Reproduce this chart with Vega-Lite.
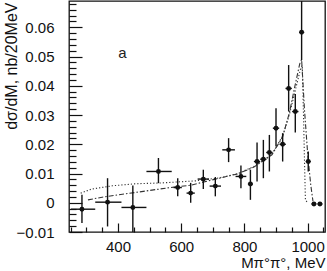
{
  "$schema": "https://vega.github.io/schema/vega-lite/v6.json",
  "autosize": {"type": "none"},
  "padding": {"left": 69, "top": 1, "right": 2, "bottom": 39},
  "width": 256,
  "height": 231,
  "background": "white",
  "config": {
    "view": {"stroke": "#111", "strokeWidth": 1.3},
    "font": "Liberation Sans",
    "axis": {"labelFont": "Liberation Sans", "titleFont": "Liberation Sans", "labelColor": "#111", "titleColor": "#111", "tickColor": "#111", "grid": false, "domain": false}
  },
  "datasets": {
    "points": [
      {"m": 286, "v": -0.0022, "ylo": -0.0069, "yhi": 0.0027, "xlo": 251, "xhi": 328},
      {"m": 367, "v": 0.0002, "ylo": -0.0081, "yhi": 0.0084, "xlo": 328, "xhi": 411},
      {"m": 447, "v": -0.0016, "ylo": -0.01, "yhi": 0.0059, "xlo": 411, "xhi": 490},
      {"m": 528, "v": 0.0107, "ylo": 0.0067, "yhi": 0.0153, "xlo": 490, "xhi": 570},
      {"m": 589, "v": 0.0052, "ylo": 0.0022, "yhi": 0.0084, "xlo": 576, "xhi": 602},
      {"m": 630, "v": 0.0033, "ylo": 0.0, "yhi": 0.0068, "xlo": 617, "xhi": 643},
      {"m": 670, "v": 0.0081, "ylo": 0.0047, "yhi": 0.0113, "xlo": 652, "xhi": 688},
      {"m": 708, "v": 0.0057, "ylo": 0.0022, "yhi": 0.0088, "xlo": 690, "xhi": 726},
      {"m": 750, "v": 0.0181, "ylo": 0.0139, "yhi": 0.0221, "xlo": 730, "xhi": 770},
      {"m": 789, "v": 0.0090, "ylo": 0.0050, "yhi": 0.0127, "xlo": 772, "xhi": 806},
      {"m": 819, "v": 0.0064, "ylo": 0.0010, "yhi": 0.0113, "xlo": 811, "xhi": 827},
      {"m": 840, "v": 0.0141, "ylo": 0.0073, "yhi": 0.0206, "xlo": 830, "xhi": 850},
      {"m": 860, "v": 0.0149, "ylo": 0.0084, "yhi": 0.0215, "xlo": 850, "xhi": 870},
      {"m": 879, "v": 0.0172, "ylo": 0.0107, "yhi": 0.0232, "xlo": 869, "xhi": 889},
      {"m": 900, "v": 0.0255, "ylo": 0.0192, "yhi": 0.0323, "xlo": 890, "xhi": 910},
      {"m": 921, "v": 0.0200, "ylo": 0.0141, "yhi": 0.0238, "xlo": 911, "xhi": 931},
      {"m": 940, "v": 0.0391, "ylo": 0.0312, "yhi": 0.0471, "xlo": 930, "xhi": 950},
      {"m": 961, "v": 0.0312, "ylo": 0.0240, "yhi": 0.0372, "xlo": 951, "xhi": 971},
      {"m": 981, "v": 0.0583, "ylo": 0.0488, "yhi": 0.069, "xlo": 973, "xhi": 989},
      {"m": 1002, "v": 0.0141, "ylo": 0.0107, "yhi": 0.0175, "xlo": 994, "xhi": 1010},
      {"m": 1020, "v": -0.0004, "ylo": -0.0006, "yhi": -0.0002, "xlo": 1012, "xhi": 1028},
      {"m": 1039, "v": -0.0004, "ylo": -0.0006, "yhi": -0.0002, "xlo": 1031, "xhi": 1047}
    ],
    "curves": [
      {"m": 305, "v": 0.0010, "c": "A"}, {"m": 350, "v": 0.0019, "c": "A"}, {"m": 400, "v": 0.0027, "c": "A"},
      {"m": 480, "v": 0.0039, "c": "A"}, {"m": 565, "v": 0.0052, "c": "A"}, {"m": 630, "v": 0.0060, "c": "A"},
      {"m": 705, "v": 0.0080, "c": "A"}, {"m": 780, "v": 0.0099, "c": "A"}, {"m": 830, "v": 0.0122, "c": "A"},
      {"m": 887, "v": 0.0164, "c": "A"}, {"m": 921, "v": 0.0226, "c": "A"}, {"m": 942, "v": 0.0306, "c": "A"},
      {"m": 960, "v": 0.0400, "c": "A"}, {"m": 975, "v": 0.0475, "c": "A"}, {"m": 981, "v": 0.0490, "c": "A"},
      {"m": 990, "v": 0.0320, "c": "A"}, {"m": 1000, "v": 0.0170, "c": "A"}, {"m": 1010, "v": 0.0060, "c": "A"},
      {"m": 1017, "v": 0.0005, "c": "A"},
      {"m": 282, "v": 0.0033, "c": "B"}, {"m": 317, "v": 0.0047, "c": "B"}, {"m": 382, "v": 0.0058, "c": "B"},
      {"m": 456, "v": 0.0065, "c": "B"}, {"m": 541, "v": 0.0068, "c": "B"}, {"m": 646, "v": 0.0075, "c": "B"},
      {"m": 720, "v": 0.0085, "c": "B"}, {"m": 780, "v": 0.0100, "c": "B"}, {"m": 830, "v": 0.0124, "c": "B"},
      {"m": 887, "v": 0.0166, "c": "B"}, {"m": 921, "v": 0.0228, "c": "B"}, {"m": 942, "v": 0.0300, "c": "B"},
      {"m": 960, "v": 0.0380, "c": "B"}, {"m": 978, "v": 0.0460, "c": "B"}, {"m": 983, "v": 0.0470, "c": "B"},
      {"m": 987, "v": 0.0300, "c": "B"}, {"m": 990, "v": 0.0150, "c": "B"}, {"m": 993, "v": 0.0010, "c": "B"},
      {"m": 1000, "v": 0.0, "c": "B"}
    ],
    "labels": [{"m": 414, "v": 0.0511, "t": "a"}]
  },
  "encoding": {
    "x": {
      "field": "m", "type": "quantitative",
      "scale": {"domain": [245, 1055], "nice": false, "zero": false},
      "axis": {
        "values": [250, 300, 350, 400, 450, 500, 550, 600, 650, 700, 750, 800, 850, 900, 950, 1000, 1050],
        "format": "d",
        "tickSize": {"condition": {"test": "datum.value % 200 == 0", "value": -9}, "value": -5},
        "tickWidth": 1.2,
        "labelExpr": "datum.value % 200 == 0 ? datum.label : ''",
        "labelPadding": 16,
        "labelFontSize": 15,
        "labelFlush": false,
        "labelOverlap": false,
        "title": "Mπ°π°, MeV",
        "titleFontSize": 15,
        "titleFontWeight": "normal",
        "titleAnchor": "end",
        "titleAlign": "right",
        "titleX": 256,
        "titleY": 35,
        "titleBaseline": "alphabetic"
      }
    },
    "y": {
      "field": "v", "type": "quantitative",
      "scale": {"domain": [-0.01, 0.069], "nice": false, "zero": false},
      "axis": {
        "values": [-0.01, -0.008, -0.006, -0.004, -0.002, 0, 0.002, 0.004, 0.006, 0.008, 0.01, 0.012, 0.014, 0.016, 0.018, 0.02, 0.022, 0.024, 0.026, 0.028, 0.03, 0.032, 0.034, 0.036, 0.038, 0.04, 0.042, 0.044, 0.046, 0.048, 0.05, 0.052, 0.054, 0.056, 0.058, 0.06, 0.062, 0.064, 0.066, 0.068],
        "tickSize": {"condition": {"test": "abs(round(datum.value*100) - datum.value*100) < 0.001", "value": -13}, "value": -7},
        "tickWidth": 1.2,
        "labelExpr": "abs(round(datum.value*100) - datum.value*100) < 0.001 ? (datum.value == 0 ? '0' : format(datum.value, '.2f')) : ''",
        "labelPadding": 28,
        "labelFontSize": 15,
        "labelFlush": false,
        "labelOverlap": false,
        "title": "dσ/dM, nb/20MeV",
        "titleFontSize": 16,
        "titleFontWeight": "normal",
        "titleAngle": -90,
        "titleAnchor": "end",
        "titleAlign": "right",
        "titleX": -53,
        "titleY": 1,
        "titleBaseline": "alphabetic"
      }
    }
  },
  "layer": [
    {
      "mark": {"type": "rule", "color": "#222", "strokeWidth": 1.2},
      "encoding": {"y": {"datum": 0, "type": "quantitative"}, "x": null}
    },
    {
      "data": {"name": "curves"},
      "mark": {"type": "line", "strokeWidth": 1.1, "color": "#333"},
      "encoding": {
        "detail": {"field": "c"},
        "strokeDash": {
          "field": "c", "type": "nominal", "legend": null,
          "scale": {"domain": ["A", "B"], "range": [[5, 2, 1.5, 2], [1.2, 2]]}
        }
      }
    },
    {
      "data": {"name": "points"},
      "mark": {"type": "rule", "color": "#111", "strokeWidth": 1.4, "clip": true},
      "encoding": {"y": {"field": "ylo", "type": "quantitative"}, "y2": {"field": "yhi"}}
    },
    {
      "data": {"name": "points"},
      "mark": {"type": "rule", "color": "#111", "strokeWidth": 1.4},
      "encoding": {"x": {"field": "xlo", "type": "quantitative"}, "x2": {"field": "xhi"}}
    },
    {
      "data": {"name": "points"},
      "mark": {"type": "point", "filled": true, "color": "#111", "size": 24, "opacity": 1}
    },
    {
      "data": {"name": "labels"},
      "mark": {"type": "text", "fontSize": 15, "color": "#222", "font": "Liberation Sans"},
      "encoding": {"text": {"field": "t"}}
    }
  ]
}
